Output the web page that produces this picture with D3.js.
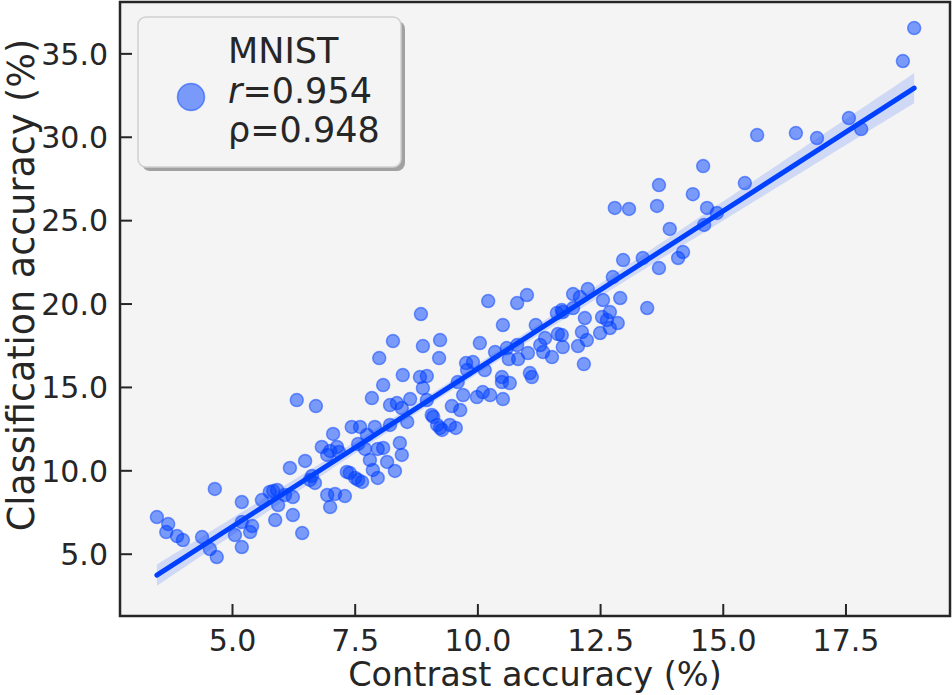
<!DOCTYPE html>
<html>
<head>
<meta charset="utf-8">
<script src="https://cdn.jsdelivr.net/npm/d3@7"></script>
<style>
  body { margin: 0; background: #fff; }
  svg { display: block; font-family: "DejaVu Sans", sans-serif; }
</style>
</head>
<body>
<svg width="952" height="695"></svg>
<script>
// contrast accuracy (%) vs classification accuracy (%), MNIST
const contrast = [
  3.47, 3.70, 3.66, 3.88, 4.00, 4.39, 4.55, 4.69, 4.65, 5.06,
  5.20, 5.20, 5.20, 5.37, 5.41, 5.61, 5.77, 5.84, 5.92, 6.08,
  6.24, 5.88, 5.94, 6.24, 6.43, 6.18, 6.32, 6.49, 6.59, 6.69,
  6.71, 6.63, 6.83, 6.94, 7.00, 7.06, 7.14, 7.18, 6.94, 7.00,
  7.10, 7.30, 7.34, 7.40, 7.51, 7.57, 7.65, 7.44, 7.61, 7.57,
  7.71, 7.75, 7.81, 7.87, 7.91, 7.97, 7.97, 7.85, 8.00, 8.08,
  8.16, 8.22, 8.32, 8.42, 8.46, 8.08, 8.22, 8.36, 8.46, 8.48,
  8.28, 8.57, 8.63, 8.83, 8.85, 8.89, 8.89, 8.97, 8.97, 9.07,
  9.18, 9.28, 9.10, 9.24, 9.22, 9.24, 9.44, 9.56, 9.48, 9.65,
  9.60, 9.77, 9.91, 9.79, 10.15, 9.71, 9.99, 10.11, 10.26, 10.05,
  10.22, 10.36, 10.52, 10.52, 10.50, 10.50, 10.66, 10.60, 10.64, 10.81,
  10.83, 10.81, 11.01, 11.03, 11.07, 11.11, 11.19, 11.28, 11.38, 11.34,
  11.52, 11.64, 11.62, 11.74, 11.74, 11.72, 11.72, 11.95, 11.95, 12.05,
  12.09, 12.25, 12.13, 12.23, 12.17, 12.19, 12.50, 12.54, 12.56, 12.70,
  12.70, 12.64, 12.86, 12.76, 12.80, 12.91, 12.97, 13.09, 13.37, 13.46,
  13.66, 13.70, 13.70, 13.92, 14.09, 14.19, 14.39, 14.60, 14.62, 14.68,
  14.88, 15.45, 15.70, 16.49, 16.92, 17.57, 17.82, 18.67, 18.90
];
const classification = [
  7.20, 6.78, 6.30, 6.06, 5.82, 6.00, 5.28, 4.80, 8.88, 6.12,
  8.10, 6.90, 5.40, 6.30, 6.66, 8.22, 8.70, 8.76, 8.82, 8.52,
  8.40, 7.02, 7.92, 7.32, 6.24, 10.14, 14.21, 10.56, 9.42, 9.24,
  13.85, 9.66, 11.40, 10.92, 11.16, 12.18, 11.40, 11.10, 8.52, 7.80,
  8.58, 8.46, 9.90, 9.84, 9.54, 9.42, 9.30, 12.60, 12.60, 11.58,
  11.28, 12.12, 10.62, 10.02, 12.60, 11.28, 9.54, 14.33, 16.73, 11.34,
  10.50, 12.72, 9.96, 11.64, 10.92, 15.11, 13.91, 14.03, 13.73, 15.71,
  17.75, 12.90, 14.27, 15.59, 19.37, 17.45, 14.93, 15.65, 14.21, 13.32,
  12.72, 12.42, 13.20, 12.54, 16.73, 17.81, 12.72, 12.54, 13.85, 13.61,
  15.29, 16.43, 16.49, 16.01, 16.01, 14.51, 14.39, 14.69, 14.51, 17.63,
  20.15, 17.09, 18.71, 14.27, 15.59, 15.29, 15.23, 17.33, 16.67, 17.51,
  16.67, 20.03, 20.51, 17.03, 15.83, 15.59, 18.71, 17.51, 17.93, 17.09,
  16.79, 18.17, 19.43, 19.49, 17.39, 18.11, 19.61, 20.57, 19.73, 17.45,
  20.39, 20.87, 18.29, 17.81, 16.37, 19.13, 18.23, 19.19, 20.21, 19.49,
  18.53, 19.01, 18.83, 21.59, 25.73, 20.33, 22.61, 25.67, 22.73, 19.73,
  25.85, 27.10, 22.13, 24.47, 22.73, 23.09, 26.56, 28.24, 24.71, 25.73,
  25.43, 27.22, 30.10, 30.22, 29.92, 31.12, 30.46, 34.54, 36.52
];
const xTicks = [5.0, 7.5, 10.0, 12.5, 15.0, 17.5];
const yTicks = [5.0, 10.0, 15.0, 20.0, 25.0, 30.0, 35.0];
const legendLines = ["MNIST", "r=0.954", "ρ=0.948"];

const blue = "#0040ff";
const svg = d3.select("svg");
const mLeft = 120, mRight = 950, mTop = 2, mBottom = 616;

const x = d3.scaleLinear().domain([2.718, 19.63]).range([mLeft, mRight]);
const y = d3.scaleLinear().domain([1.265, 38.08]).range([mBottom, mTop]);

svg.append("rect")
  .attr("x", mLeft).attr("y", mTop)
  .attr("width", mRight - mLeft).attr("height", mBottom - mTop)
  .attr("fill", "#f4f4f4");

// least squares fit + 95% band
const pts = contrast.map((c, i) => [c, classification[i]]);
const n = pts.length;
const mx = d3.mean(pts, d => d[0]), my = d3.mean(pts, d => d[1]);
const sxx = d3.sum(pts, d => (d[0] - mx) ** 2);
const sxy = d3.sum(pts, d => (d[0] - mx) * (d[1] - my));
const slope = sxy / sxx, icpt = my - slope * mx;
const s = Math.sqrt(d3.sum(pts, d => (d[1] - icpt - slope * d[0]) ** 2) / (n - 2));
const [x0, x1] = d3.extent(contrast);
const grid = d3.range(0, 101).map(i => x0 + (x1 - x0) * i / 100);
const band = grid.map(g => {
  const se = s * Math.sqrt(1 / n + (g - mx) ** 2 / sxx);
  const yh = icpt + slope * g;
  return { x: g, lo: yh - 1.97 * se, hi: yh + 1.97 * se };
});

svg.append("path")
  .datum(band)
  .attr("fill", blue).attr("fill-opacity", 0.15)
  .attr("d", d3.area().x(d => x(d.x)).y0(d => y(d.lo)).y1(d => y(d.hi)));

svg.append("g").selectAll("circle")
  .data(pts)
  .join("circle")
  .attr("cx", d => x(d[0]))
  .attr("cy", d => y(d[1]))
  .attr("r", 6.5)
  .attr("fill", blue).attr("fill-opacity", 0.5)
  .attr("stroke", blue).attr("stroke-opacity", 0.5).attr("stroke-width", 1.5);

svg.append("line")
  .attr("x1", x(x0)).attr("y1", y(icpt + slope * x0))
  .attr("x2", x(x1)).attr("y2", y(icpt + slope * x1))
  .attr("stroke", blue).attr("stroke-width", 5).attr("stroke-linecap", "round");

// axes: ticks inward
const xAxis = svg.append("g").attr("transform", `translate(0,${mBottom})`)
  .call(d3.axisBottom(x).tickValues(xTicks).tickFormat(d3.format(".1f"))
    .tickSizeInner(-12).tickSizeOuter(0).tickPadding(14));
const yAxis = svg.append("g").attr("transform", `translate(${mLeft},0)`)
  .call(d3.axisLeft(y).tickValues(yTicks).tickFormat(d3.format(".1f"))
    .tickSizeInner(-12).tickSizeOuter(0).tickPadding(12));
[xAxis, yAxis].forEach(g => {
  g.select(".domain").remove();
  g.selectAll(".tick line").attr("stroke", "#262626").attr("stroke-width", 2);
  g.selectAll(".tick text").attr("fill", "#262626")
    .style("font-size", "30px").style("font-family", "DejaVu Sans");
});
yAxis.selectAll(".tick text").attr("dy", "0.36em");

svg.append("rect")
  .attr("x", mLeft).attr("y", mTop)
  .attr("width", mRight - mLeft).attr("height", mBottom - mTop)
  .attr("fill", "none").attr("stroke", "#262626").attr("stroke-width", 2.5);

svg.append("text")
  .attr("x", (mLeft + mRight) / 2).attr("y", 686)
  .attr("text-anchor", "middle").attr("fill", "#262626")
  .style("font-size", "33.5px")
  .text("Contrast accuracy (%)");
svg.append("text")
  .attr("transform", "translate(34,285) rotate(-90)")
  .attr("text-anchor", "middle").attr("fill", "#262626")
  .style("font-size", "36.5px")
  .text("Classification accuracy (%)");

// legend
const lg = svg.append("g");
lg.append("rect")
  .attr("x", 142).attr("y", 21).attr("width", 263).attr("height", 150)
  .attr("rx", 8).attr("fill", "#8c8c8c").attr("fill-opacity", 0.8);
lg.append("rect")
  .attr("x", 138).attr("y", 17).attr("width", 263).attr("height", 150)
  .attr("rx", 8).attr("fill", "#f4f4f4").attr("stroke", "#d0d0d0").attr("stroke-width", 1.5);
lg.append("circle")
  .attr("cx", 191).attr("cy", 97).attr("r", 13.5)
  .attr("fill", blue).attr("fill-opacity", 0.5)
  .attr("stroke", blue).attr("stroke-opacity", 0.5).attr("stroke-width", 1.5);
const lt = lg.append("text").attr("fill", "#262626").style("font-size", "35px");
lt.append("tspan").attr("x", 228).attr("y", 63).text(legendLines[0]);
const l2 = lt.append("tspan").attr("x", 228).attr("y", 103);
l2.append("tspan").style("font-style", "italic").text(legendLines[1].slice(0, 1));
l2.append("tspan").text(legendLines[1].slice(1));
lt.append("tspan").attr("x", 228).attr("y", 142).text(legendLines[2]);
</script>
</body>
</html>
